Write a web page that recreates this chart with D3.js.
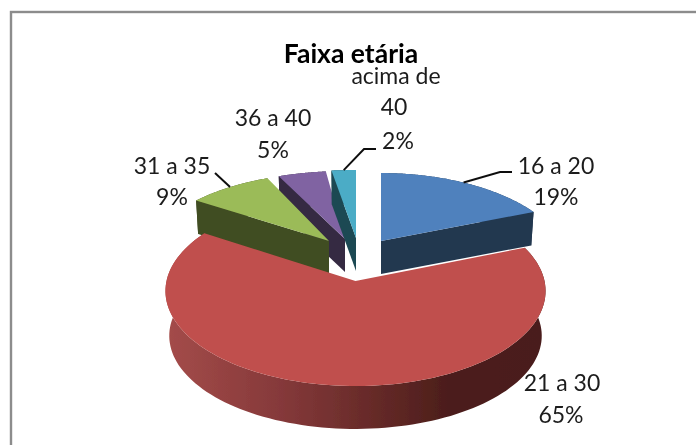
<!DOCTYPE html>
<html><head><meta charset="utf-8">
<script src="https://cdn.jsdelivr.net/npm/d3@7"></script>
<style>html,body{margin:0;padding:0;background:#fff}svg{display:block}text{font-family:Lato,"Open Sans",sans-serif;fill:#1c1c1c}</style>
</head><body><svg id="c" width="696" height="445"></svg>
<script>
const title = "Faixa etária";
const categories = ["16 a 20","21 a 30","31 a 35","36 a 40","acima de 40"];
const values = [19,65,9,5,2];
const percentLabels = ["19%","65%","9%","5%","2%"];
const colors = ["#4f81bd","#c0504d","#9bbb59","#8064a2","#4bacc6"];
const darkColors = ["#233850","#5c2322","#414d22","#352943","#1f4852"];

const W=696,H=445;
const svg=d3.select("#c");
const defs=svg.append("defs");
defs.append("filter").attr("id","soft").append("feGaussianBlur").attr("stdDeviation",0.55);
const grad=defs.append("linearGradient").attr("id","wall").attr("gradientUnits","userSpaceOnUse")
  .attr("x1",170).attr("x2",540).attr("y1",0).attr("y2",0);
[[0,"#a34b49"],[0.3,"#85393a"],[0.55,"#662a28"],[0.75,"#4c1e1b"],[1,"#4a1c1a"]].forEach(s=>
  grad.append("stop").attr("offset",s[0]).attr("stop-color",s[1]));

const root=svg.append("g").attr("filter","url(#soft)");
root.append("rect").attr("x",11).attr("y",12).attr("width",W+20).attr("height",H+20)
  .attr("fill","#fff").attr("stroke","#8c8c8c").attr("stroke-width",2.4);

// per-slice placement of the exploded pie: apex, radii, perspective, thickness
const back={rx:181,ry:87,k:0.28,depth:33,s:0.985};
const geom=[
 {x:381,y:241,...back},
 {x:355.5,y:281,rx:189,ry:94,k:0.105,depth:45,s:0.98},
 {x:329,y:241,...back},
 {x:345,y:239,...back,rx:195},
 {x:356,y:238,...back,rx:250}
];
const pie=d3.pie().sort(null).value(d=>d).startAngle(0).endAngle(2*Math.PI);
const arcs=pie(values);
function proj(g,a,r=1,bottom=false){
  const u=Math.sin(a)*r,v=Math.cos(a)*r,w=1+g.k*v,s=bottom?g.s:1;
  return [g.x+g.rx*s*u/w, g.y-g.ry*s*v/w+(bottom?g.depth:0)];
}
const angles=(a0,a1)=>d3.range(0,121).map(i=>a0+(a1-a0)*i/120);
const line=d3.line();
function topPath(g,a){return line([[g.x,g.y],...angles(a.startAngle,a.endAngle).map(t=>proj(g,t))])+"Z";}
function cutFace(g,t){return line([[g.x,g.y],proj(g,t),proj(g,t,1,true),[g.x,g.y+g.depth]])+"Z";}
function wall(g,a){const ts=angles(a.startAngle,a.endAngle);
  return line([...ts.map(t=>proj(g,t)),...ts.slice().reverse().map(t=>proj(g,t,1,true))])+"Z";}

const pieG=root.append("g");
// back slices first, then the large front slice
[3,4,0,2].forEach(i=>{
  const g=geom[i],a=arcs[i];
  const cutAngle=i===0?a.endAngle:a.startAngle;
  pieG.append("path").attr("d",wall(g,a)).attr("fill",darkColors[i]);
  pieG.append("path").attr("d",cutFace(g,cutAngle)).attr("fill",darkColors[i]);
  pieG.append("path").attr("d",topPath(g,a)).attr("fill",colors[i]);
});
{
  const i=1,g=geom[i],a=arcs[i];
  pieG.append("path").attr("d",wall(g,a)).attr("fill","url(#wall)");
  pieG.append("path").attr("d",topPath(g,a)).attr("fill",colors[i]);
}

// leader lines start on the rim at each slice's mid angle
const leaders=[
 {i:0,pts:[[500,172],[512,172]]},
 {i:2,pts:[[215,173]]},
 {i:4,pts:[[364,149],[376,149]]}
];
leaders.forEach(l=>{
  const a=arcs[l.i],g=geom[l.i];
  const p=proj(g,(a.startAngle+a.endAngle)/2);
  root.append("path").attr("d",line([p,...l.pts])).attr("fill","none")
    .attr("stroke","#111").attr("stroke-width",2);
});

root.append("text").attr("x",351).attr("y",63).attr("text-anchor","middle")
  .attr("font-size",26.5).attr("font-weight",700).style("fill","#000").text(title);

const labelPos=[
 {x:[556,556],y:[174,205]},
 {x:[562,561],y:[391,423]},
 {x:[172,172],y:[174,205]},
 {x:[273,273],y:[126,158]},
 {x:[396,394,398],y:[84,115,149]}
];
const fs=23;
labelPos.forEach((lp,i)=>{
  const lines=i===4?["acima de","40",percentLabels[i]]:[categories[i],percentLabels[i]];
  lines.forEach((t,j)=>root.append("text").attr("x",lp.x[j]).attr("y",lp.y[j])
    .attr("text-anchor","middle").attr("font-size",fs).text(t));
});
</script></body></html>
